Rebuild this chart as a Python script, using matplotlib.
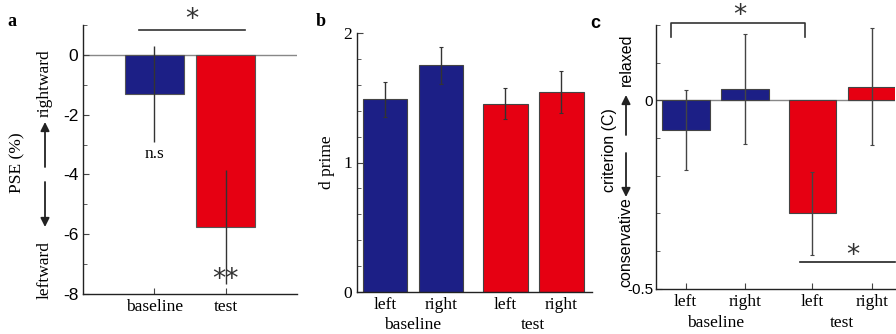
import numpy as np
import matplotlib
matplotlib.use('Agg')
import matplotlib.pyplot as plt
from matplotlib.ticker import MultipleLocator

plt.rcParams['font.family'] = 'Liberation Serif'
plt.rcParams['font.size'] = 12.5

BLUE = '#1c1f86'
RED = '#e60012'

# panel a: PSE
a_labels = ['baseline', 'test']
a_means = [-1.3, -5.75]
a_errs = [1.6, 1.9]

# panel b: d prime
b_labels = ['left', 'right', 'left', 'right']
b_means = [1.49, 1.75, 1.455, 1.545]
b_errs = [0.135, 0.14, 0.12, 0.165]

# panel c: criterion
c_labels = ['left', 'right', 'left', 'right']
c_means = [-0.078, 0.030, -0.300, 0.036]
c_errs = [0.106, 0.146, 0.110, 0.155]

groups = ['baseline', 'test']
colors4 = [BLUE, BLUE, RED, RED]

W, H = 896, 334
fig = plt.figure(figsize=(W / 100, H / 100), dpi=100)


def px_axes(l, t, r, b):
    return fig.add_axes([l / W, 1 - b / H, (r - l) / W, (b - t) / H])


def fx(x):
    return x / W


def fy(y):
    return 1 - y / H


def style(ax):
    for s in ['top', 'right']:
        ax.spines[s].set_visible(False)
    for s in ['left', 'bottom']:
        ax.spines[s].set_linewidth(1.0)
        ax.spines[s].set_color('#222222')
    ax.tick_params(which='both', direction='in', color='#444444')
    ax.tick_params(which='major', length=4)
    ax.tick_params(which='minor', length=3)


def side_label(x_main, x_dir, y_main, y_up, y_dn, main, up, dn, fam, fs,
               up_arrow, dn_arrow):
    fig.text(fx(x_main), fy(y_main), main, rotation=90, ha='center',
             va='center', family=fam, fontsize=fs)
    fig.text(fx(x_dir), fy(y_up), up, rotation=90, ha='center',
             va='center', family=fam, fontsize=fs)
    fig.text(fx(x_dir), fy(y_dn), dn, rotation=90, ha='center',
             va='center', family=fam, fontsize=fs)
    for (y0, y1) in [up_arrow, dn_arrow]:
        fig.patches.append(matplotlib.patches.FancyArrowPatch(
            (fx(x_dir), fy(y0)), (fx(x_dir), fy(y1)),
            transform=fig.transFigure, arrowstyle='-|>', mutation_scale=13,
            color='#222222', lw=1.3, shrinkA=0, shrinkB=0))


# ---------------- panel a ----------------
ax = px_axes(83, 25, 297, 294)
style(ax)
xa = np.arange(1, len(a_means) + 1)
ax.bar(xa, a_means, width=0.82, color=[BLUE, RED], edgecolor='#555555',
       linewidth=0.8, zorder=2)
ax.errorbar(xa, a_means, yerr=a_errs, fmt='none', ecolor='#333333',
            elinewidth=1.0, capsize=0, zorder=3)
ax.axhline(0, color='#888888', lw=1.0, zorder=1)
ax.set_xlim(0, 3)
ax.set_ylim(-8, 1)
ax.set_xticks(xa)
ax.set_xticklabels(a_labels)
ax.yaxis.set_minor_locator(MultipleLocator(1))
ax.set_yticks([0, -2, -4, -6, -8])
ax.set_yticklabels(['0', '-2', '-4', '-6', '-8'], family='Liberation Sans')
ax.plot([0.79, 2.27], [0.84, 0.84], color='#333333', lw=1.2,
        clip_on=False)
ax.text(1.53, 0.72, '*', ha='center', va='bottom', fontsize=19,
        family='DejaVu Sans', color='#333333')
ax.text(1.0, -3.3, 'n.s', ha='center', va='center')
ax.text(2.0, -7.95, '**', ha='center', va='bottom', fontsize=19,
        family='DejaVu Sans', color='#333333')
fig.text(fx(12), fy(22), 'a', fontsize=13, fontweight='bold',
         ha='center', va='center')
side_label(17, 45, 163, 83, 270, 'PSE (%)', 'rightward', 'leftward',
           'Liberation Serif', 12.5, (167, 122), (182, 227))

# ---------------- panel b ----------------
ax = px_axes(357, 33, 592, 292)
style(ax)
xb = [1, 2, 3.15, 4.15]
ax.bar(xb, b_means, width=0.8, color=colors4, edgecolor='#444444',
       linewidth=0.8, zorder=2)
ax.errorbar(xb, b_means, yerr=b_errs, fmt='none', ecolor='#333333',
            elinewidth=1.0, capsize=1.5, capthick=0.8, zorder=3)
ax.set_xlim(0.5, 4.7)
ax.set_ylim(0, 2)
ax.set_xticks(xb)
ax.set_xticklabels(b_labels)
ax.set_yticks([0, 1, 2])
ax.yaxis.set_minor_locator(MultipleLocator(0.2))
ax.tick_params(axis='x', length=0)
ax.set_ylabel('d prime', labelpad=6)
ax.text(1.5, -0.128, groups[0], transform=ax.get_xaxis_transform(),
        ha='center', va='center')
ax.text(3.65, -0.128, groups[1], transform=ax.get_xaxis_transform(),
        ha='center', va='center')
fig.text(fx(321), fy(22), 'b', fontsize=13, fontweight='bold',
         ha='center', va='center')

# ---------------- panel c ----------------
ax = px_axes(656, 25, 895, 288.7)
style(ax)
xc = [1, 2, 3.13, 4.13]
ax.bar(xc, c_means, width=0.8, color=colors4, edgecolor='#444444',
       linewidth=0.8, zorder=2)
ax.errorbar(xc, c_means, yerr=c_errs, fmt='none', ecolor='#444444',
            elinewidth=1.0, capsize=1.2, capthick=0.8, zorder=3)
ax.axhline(0, color='#888888', lw=1.0, zorder=1)
ax.set_xlim(0.5, 4.52)
ax.set_ylim(-0.5, 0.2)
ax.set_xticks(xc)
ax.set_xticklabels(c_labels)
ax.set_yticks([0, -0.5])
ax.set_yticklabels(['0', '-0.5'], family='Liberation Sans', fontsize=11)
ax.tick_params(axis='y', pad=2)
ax.yaxis.set_minor_locator(MultipleLocator(0.1))
ax.plot([0.75, 0.75, 3.0, 3.0], [0.169, 0.204, 0.204, 0.169],
        color='#333333', lw=1.2, clip_on=False)
ax.text(1.91, 0.19, '*', ha='center', va='bottom', fontsize=19,
        family='DejaVu Sans', color='#333333')
ax.plot([2.92, 4.52], [-0.43, -0.43], color='#222222', lw=1.2,
        clip_on=False)
ax.text(3.81, -0.447, '*', ha='center', va='bottom', fontsize=19,
        family='DejaVu Sans', color='#333333')
ax.text(1.5, -0.13, groups[0], transform=ax.get_xaxis_transform(),
        ha='center', va='center')
ax.text(3.63, -0.13, groups[1], transform=ax.get_xaxis_transform(),
        ha='center', va='center')
fig.text(fx(595), fy(24), 'c', fontsize=13, fontweight='bold',
         ha='center', va='center', family='Liberation Sans')
side_label(609, 626, 150, 60, 242, 'criterion (C)', 'relaxed',
           'conservative', 'Liberation Sans', 11.5, (135, 95), (153, 197))

fig.savefig('out.png', dpi=100)
